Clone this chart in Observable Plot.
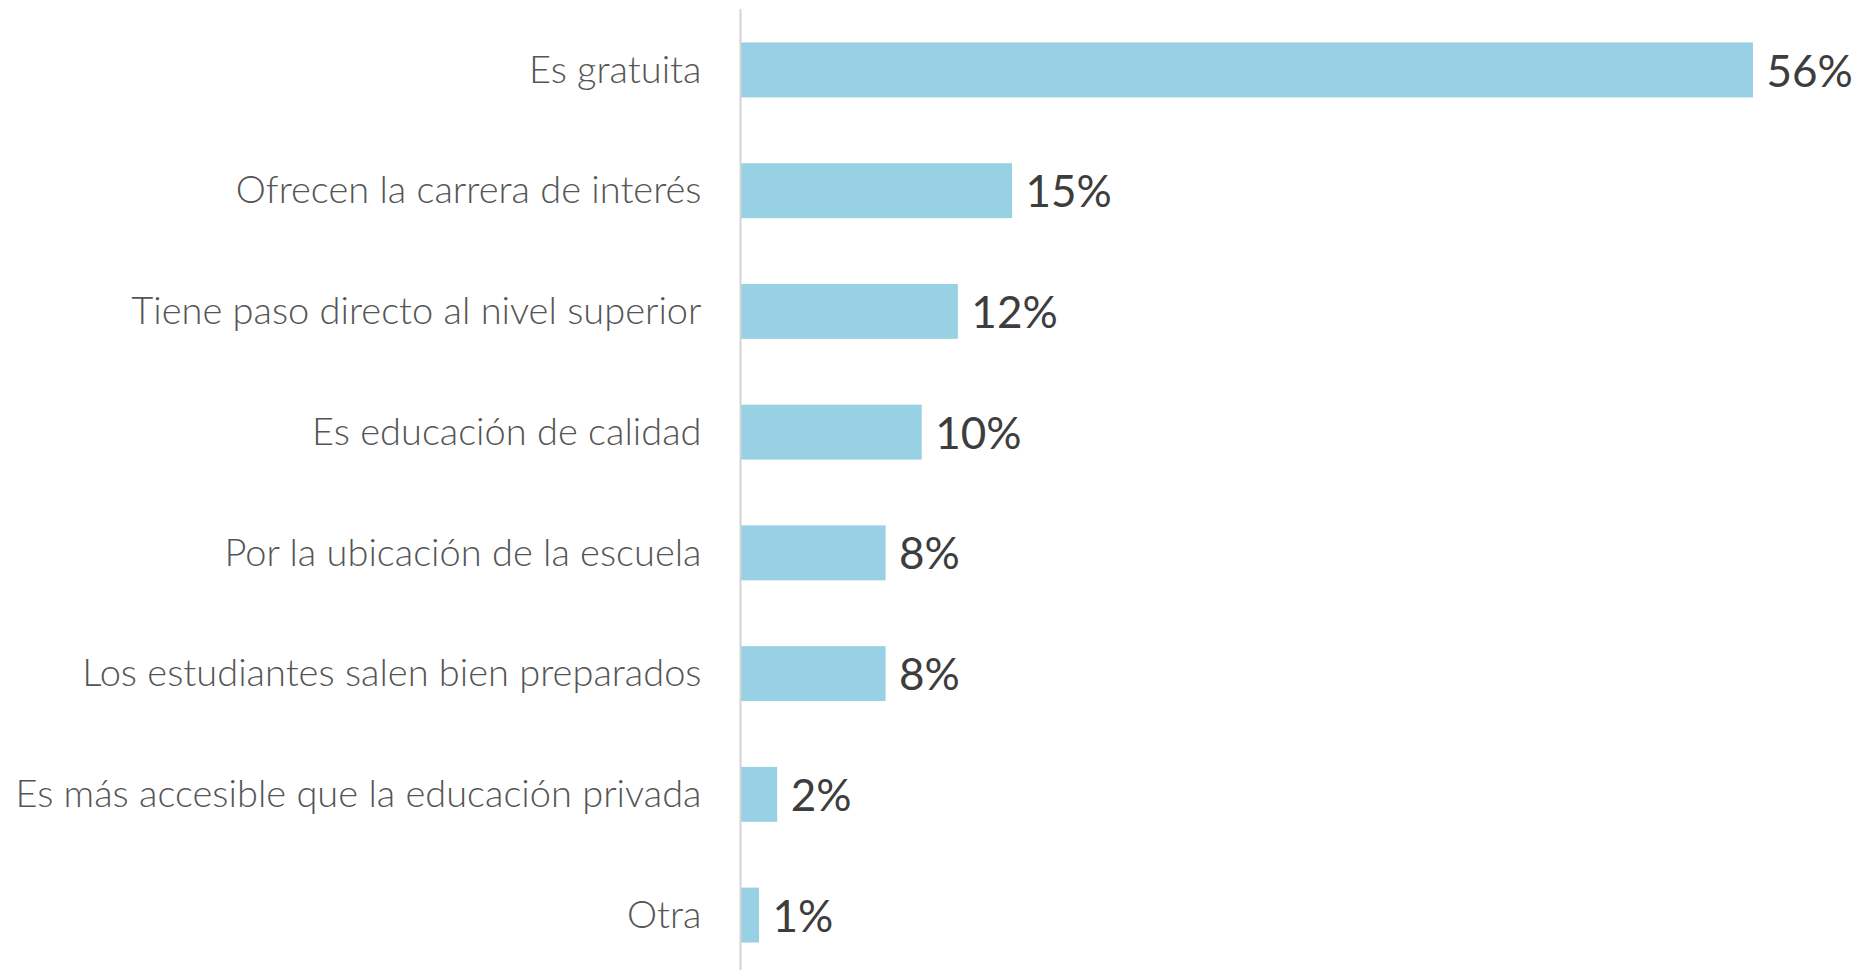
<!DOCTYPE html>
<html>
<head>
<meta charset="utf-8">
<script src="https://cdn.jsdelivr.net/npm/d3@7"></script>
<script src="https://cdn.jsdelivr.net/npm/@observablehq/plot@0.6"></script>
<style>
  html, body { margin: 0; padding: 0; background: #fff; }
  #chart svg { display: block; }
</style>
</head>
<body>
<div id="chart"></div>
<script>
const categories = [
  "Es gratuita",
  "Ofrecen la carrera de interés",
  "Tiene paso directo al nivel superior",
  "Es educación de calidad",
  "Por la ubicación de la escuela",
  "Los estudiantes salen bien preparados",
  "Es más accesible que la educación privada",
  "Otra"
];
const values = [56, 15, 12, 10, 8, 8, 2, 1];

const data = categories.map((c, i) => ({category: c, value: values[i]}));

const chart = Plot.plot({
  width: 1858,
  height: 970,
  marginTop: 15,
  marginBottom: 0,
  marginLeft: 741,
  marginRight: 105,
  style: {fontFamily: "Lato, sans-serif", background: "#fff"},
  x: {domain: [0, 56], axis: null},
  y: {domain: categories, paddingInner: 0.545, paddingOuter: 0.2275, round: false, label: null},
  marks: [
    Plot.barX(data, {x: "value", y: "category", fill: "#97d1e3"}),
    Plot.ruleX([0], {stroke: "#d3d3d3", strokeWidth: 2, insetTop: -6, dx: -1}),
    Plot.text(data, {
      x: "value", y: "category", text: d => d.value + "%",
      textAnchor: "start", dx: 13, dy: 2, fontSize: 44, fill: "#3d3d3d"
    }),
    Plot.axisY({
      tickSize: 0, tickPadding: 40, fontSize: 38, fontWeight: 300,
      fill: "#555", label: null
    })
  ]
});
document.getElementById("chart").appendChild(chart);
</script>
</body>
</html>
